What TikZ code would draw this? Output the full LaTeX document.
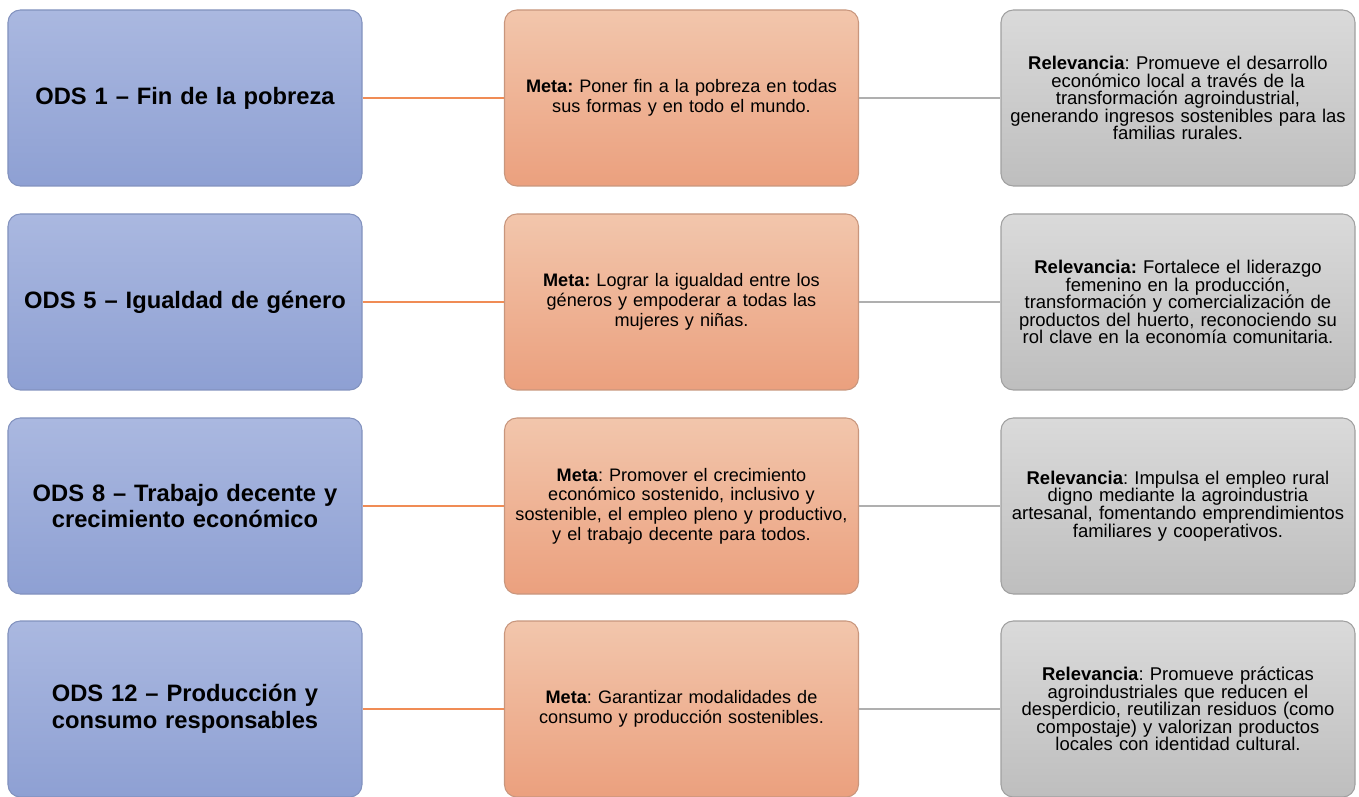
\documentclass[tikz,border=0pt]{standalone}
\usepackage{fontspec}
\setmainfont{Liberation Sans}
\definecolor{odsTop}{RGB}{170,184,224}
\definecolor{odsBot}{RGB}{142,160,211}
\definecolor{odsLine}{RGB}{130,146,190}
\definecolor{metaTop}{RGB}{242,198,172}
\definecolor{metaBot}{RGB}{235,160,126}
\definecolor{metaLine}{RGB}{200,150,125}
\definecolor{relTop}{RGB}{218,218,218}
\definecolor{relBot}{RGB}{190,190,190}
\definecolor{relLine}{RGB}{160,160,160}
\definecolor{lnkOrange}{RGB}{240,140,85}
\definecolor{lnkGray}{RGB}{175,175,175}
\begin{document}
\frenchspacing
\begin{tikzpicture}[thick]
        \tikzstyle{box}=[rectangle, rounded corners=7pt, minimum width=7.08cm, minimum height=3.52cm, align=center, inner sep=0pt, line width=0.6pt]
        \tikzstyle{ods}=[box, draw=odsLine, top color=odsTop, bottom color=odsBot, font=\fontsize{13.5}{15.3}\selectfont\bfseries, text width=7.0cm]
        \tikzstyle{meta}=[box, draw=metaLine, top color=metaTop, bottom color=metaBot, font=\fontsize{10.3}{11.2}\selectfont, text width=7.0cm]
        \tikzstyle{rel}=[box, draw=relLine, top color=relTop, bottom color=relBot, font=\fontsize{10.5}{10}\selectfont, text width=7.0cm]
        \tikzstyle{lnk}=[line width=1.1pt, draw=lnkOrange]
        \tikzstyle{lnkg}=[line width=1.1pt, draw=lnkGray]

        \useasboundingbox (0,0) rectangle (27.18,-15.94);

        % Left column: ODS
        \node[ods] (ods1) at (3.70,-1.96) {ODS 1 – Fin de la pobreza};
        \node[ods] (ods5) at (3.70,-6.04) {ODS 5 – Igualdad de género};
        \node[ods] (ods8) at (3.70,-10.12) {ODS 8 – Trabajo decente y\\crecimiento económico};
        \node[ods] (ods12) at (3.70,-14.18) {ODS 12 – Producción y\\consumo responsables};

        % Middle column: metas
        \node[meta] (meta1) at (13.63,-1.96) {\textbf{Meta:} Poner fin a la pobreza en todas\\sus formas y en todo el mundo.};
        \node[meta] (meta5) at (13.63,-6.04) {\textbf{Meta:} Lograr la igualdad entre los\\géneros y empoderar a todas las\\mujeres y niñas.};
        \node[meta] (meta8) at (13.63,-10.12) {\textbf{Meta}: Promover el crecimiento\\económico sostenido, inclusivo y\\sostenible, el empleo pleno y productivo,\\y el trabajo decente para todos.};
        \node[meta] (meta12) at (13.63,-14.18) {\textbf{Meta}: Garantizar modalidades de\\consumo y producción sostenibles.};

        % Right column: relevancia
        \node[rel] (rel1) at (23.56,-1.96) {\textbf{Relevancia}: Promueve el desarrollo\\económico local a través de la\\transformación agroindustrial,\\generando ingresos sostenibles para las\\familias rurales.};
        \node[rel] (rel5) at (23.56,-6.04) {\textbf{Relevancia:} Fortalece el liderazgo\\femenino en la producción,\\transformación y comercialización de\\productos del huerto, reconociendo su\\rol clave en la economía comunitaria.};
        \node[rel] (rel8) at (23.56,-10.12) {\textbf{Relevancia}: Impulsa el empleo rural\\digno mediante la agroindustria\\artesanal, fomentando emprendimientos\\familiares y cooperativos.};
        \node[rel] (rel12) at (23.56,-14.18) {\textbf{Relevancia}: Promueve prácticas\\agroindustriales que reducen el\\desperdicio, reutilizan residuos (como\\compostaje) y valorizan productos\\locales con identidad cultural.};

        % Connectors
        \foreach \n in {1,5,8,12} {
            \draw[lnk] (ods\n) -- (meta\n);
            \draw[lnkg] (meta\n) -- (rel\n);
        }
\end{tikzpicture}
\end{document}
